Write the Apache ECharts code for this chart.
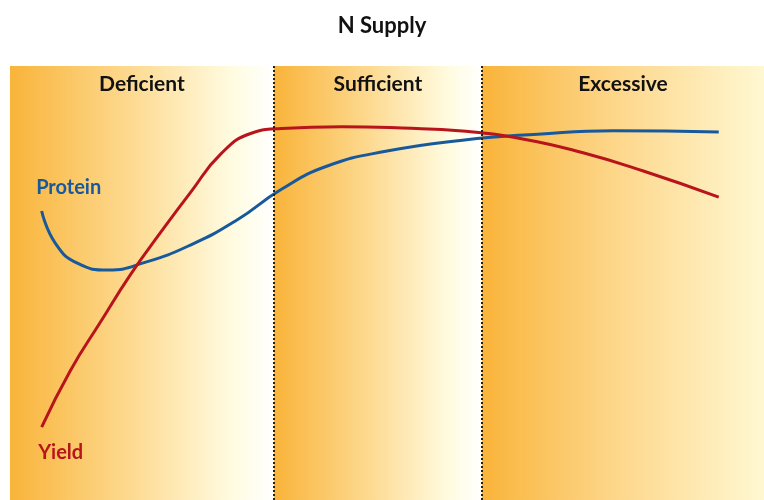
<!DOCTYPE html>
<html>
<head>
<meta charset="utf-8">
<script src="https://cdn.jsdelivr.net/npm/echarts@6/dist/echarts.min.js"></script>
<style>
  html, body { margin: 0; padding: 0; background: #fff; }
  #chart { width: 764px; height: 500px; }
</style>
</head>
<body>
<div id="chart"></div>
<script>
// N supply response curves (x: N supply 0-100, y: relative response 0-100)
var zoneNames = ['Deficient', 'Sufficient', 'Excessive'];
var zoneEdges = [0, 35, 62.6, 100];

var yieldData = [
  [4.2, 16.8], [8, 29.8], [12, 41.0], [16, 52.0], [20, 61.7],
  [24, 71.0], [28, 79.8], [32, 84.5], [36, 85.6], [44, 86.0],
  [52, 85.7], [60, 85.0], [68, 83.2], [76, 80.0], [84, 75.8], [94, 69.8]
];
var proteinData = [
  [4.2, 66.6], [6, 59.2], [9, 54.5], [13, 53.0], [18, 54.8],
  [24, 58.8], [30, 64.4], [36, 71.6], [42, 76.9], [50, 80.4],
  [60, 82.9], [70, 84.3], [80, 85.1], [94, 84.8]
];

(function() {
  var chart = echarts.init(document.getElementById('chart'), null, { renderer: 'canvas' });
  var font = 'Lato, "DejaVu Sans", sans-serif';

  function bandGrad(last) {
    return new echarts.graphic.LinearGradient(0, 0, 1, 0, last ? [
      { offset: 0, color: '#F9B43A' },
      { offset: 0.45, color: '#FDD587' },
      { offset: 1, color: '#FFF8D2' }
    ] : [
      { offset: 0, color: '#F9B43A' },
      { offset: 0.45, color: '#FDD98F' },
      { offset: 0.85, color: '#FFFCE2' },
      { offset: 1, color: '#FFFFFF' }
    ]);
  }

  var areas = zoneNames.map(function(name, i) {
    return [
      { xAxis: zoneEdges[i], yAxis: 100, name: name, itemStyle: { color: bandGrad(i === zoneNames.length - 1) } },
      { xAxis: zoneEdges[i + 1], yAxis: 0 }
    ];
  });
  var dividers = zoneEdges.slice(1, -1).map(function(x) { return { xAxis: x }; });

  function withStartLabel(data, name, color, offset) {
    return data.map(function(d, i) {
      if (i !== 0) return d;
      return {
        value: d,
        label: {
          show: true, formatter: name, position: 'inside', offset: offset,
          color: color, fontFamily: font, fontSize: 20, fontWeight: 'bold'
        }
      };
    });
  }

  chart.setOption({
    animation: false,
    title: {
      text: 'N Supply', left: 'center', top: 10,
      textStyle: { fontFamily: font, fontSize: 22, fontWeight: 'bold', color: '#111' }
    },
    grid: { left: 10, right: 0, top: 66, bottom: 0 },
    xAxis: { type: 'value', min: 0, max: 100, show: false },
    yAxis: { type: 'value', min: 0, max: 100, show: false },
    series: [
      {
        name: 'Zones', type: 'line', data: [], silent: true,
        markArea: {
          silent: true,
          label: {
            show: true, position: 'insideTop', distance: 8,
            color: '#111', fontFamily: font, fontSize: 21, fontWeight: 'bold'
          },
          data: areas
        },
        markLine: {
          silent: true, symbol: 'none', label: { show: false },
          lineStyle: { color: '#222', width: 2, type: [2, 2] },
          data: dividers
        }
      },
      {
        name: 'Protein', type: 'line', smooth: 0.5,
        symbol: 'circle', symbolSize: 0, showSymbol: true,
        lineStyle: { color: '#17599B', width: 3 },
        itemStyle: { color: '#17599B' },
        data: withStartLabel(proteinData, 'Protein', '#17599B', [27, -23]),
        z: 3
      },
      {
        name: 'Yield', type: 'line', smooth: 0.5,
        symbol: 'circle', symbolSize: 0, showSymbol: true,
        lineStyle: { color: '#B8141C', width: 3 },
        itemStyle: { color: '#B8141C' },
        data: withStartLabel(yieldData, 'Yield', '#B8141C', [19, 25]),
        z: 4
      }
    ]
  });

  window.addEventListener('resize', function() { chart.resize(); });
})();
</script>
</body>
</html>
